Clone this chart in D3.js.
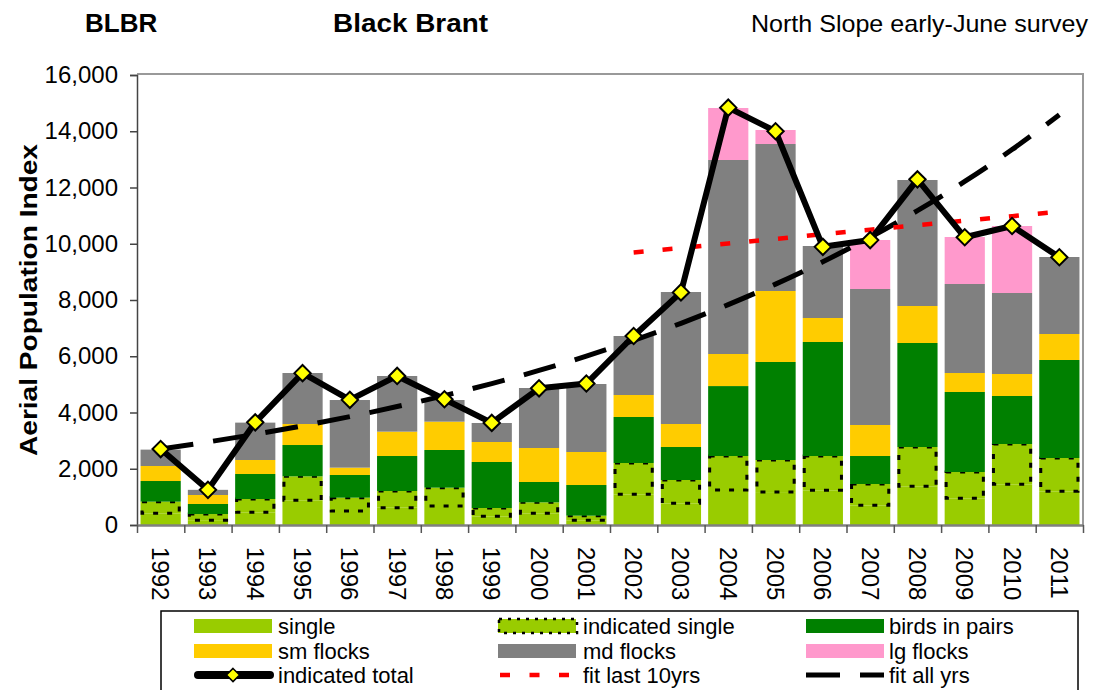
<!DOCTYPE html>
<html><head><meta charset="utf-8">
<script src="https://cdn.jsdelivr.net/npm/d3@7"></script>
<style>
body{margin:0;background:#fff;}
svg{display:block;font-family:"Liberation Sans",Arial,sans-serif;}
</style></head>
<body>
<svg id="chart" width="1094" height="690"></svg>
<script>
// ---- data ----
const years = ["1992","1993","1994","1995","1996","1997","1998","1999","2000","2001","2002","2003","2004","2005","2006","2007","2008","2009","2010","2011"];
const single        = [415,170,451,877,498,616,676,308,415,166,1090,770,1244,1170,1233,699,1375,948,1446,1197];
const indSingle     = [415,220,473,854,474,593,652,296,391,166,1114,830,1209,1141,1220,759,1398,936,1434,1185];
const birdsInPairs  = [734,357,889,1113,806,1244,1339,1636,723,1090,1636,1173,2487,3485,4054,995,3698,2845,1707,3485];
const smFlocks      = [534,320,498,747,261,866,1007,711,1209,1174,782,818,1140,2524,853,1103,1316,675,782,924];
const mdFlocks      = [582,183,1329,1813,2405,1979,770,676,2133,2417,2098,4693,6898,5227,2560,4835,4480,3165,2880,2738];
const lgFlocks      = [0,0,0,0,0,0,0,0,0,0,0,0,1849,497,0,1742,0,1671,2382,0];
const indicatedTotal= [2700,1250,3650,5400,4450,5300,4470,3630,4860,5030,6720,8270,14840,14000,9890,10130,12290,10230,10630,9520];
const fitAllYrs     = [2702,2953,3227,3526,3853,4211,4602,5029,5495,6005,6563,7172,7837,8565,9360,10228,11178,12215,13349,14588];
const fitLast10Years= ["2002","2003","2004","2005","2006","2007","2008","2009","2010","2011"];
const fitLast10     = [9690,9850,10010,10170,10340,10500,10660,10820,10980,11140];
const yTicks        = [0,2000,4000,6000,8000,10000,12000,14000,16000];

const seriesKeys  = ["single","indSingle","pairs","sm","md","lg"];
const seriesNames = {single:"single",indSingle:"indicated single",pairs:"birds in pairs",sm:"sm flocks",md:"md flocks",lg:"lg flocks"};
const colors = {single:"#99CC00",indSingle:"#99CC00",pairs:"#008000",sm:"#FFCC00",md:"#808080",lg:"#FF99CC"};

const table = years.map((y,i)=>({year:y,single:single[i],indSingle:indSingle[i],pairs:birdsInPairs[i],sm:smFlocks[i],md:mdFlocks[i],lg:lgFlocks[i]}));

const svg = d3.select("#chart");
const L=137, R=1083, T=75, B=525;
const x = d3.scaleBand().domain(years).range([L,R]).paddingInner(0.15).paddingOuter(0.075);
const y = d3.scaleLinear().domain([0,16000]).range([B,T]);
const cx = d => x(d)+x.bandwidth()/2;

// plot frame (top/right)
svg.append("path").attr("d",`M${L},${T-1}H${R}V${B}`).attr("fill","none").attr("stroke","#999").attr("stroke-width",2);

// bars
const stack = d3.stack().keys(seriesKeys)(table);
stack.forEach(layer=>{
  const key = layer.key;
  const g = svg.append("g").attr("class","layer-"+key);
  g.selectAll("rect").data(layer.filter(d=>d[1]-d[0]>0)).join("rect")
    .attr("x",d=>x(d.data.year)).attr("width",x.bandwidth())
    .attr("y",d=>y(d[1])).attr("height",d=>y(d[0])-y(d[1]))
    .attr("fill",colors[key]);
  if(key==="indSingle"){
    g.selectAll("rect.outline").data(layer).join("rect").attr("class","outline")
      .attr("x",d=>x(d.data.year)+1.5).attr("width",x.bandwidth()-3)
      .attr("y",d=>y(d[1])).attr("height",d=>y(d[0])-y(d[1]))
      .attr("fill","none").attr("stroke","#000").attr("stroke-width",3).attr("stroke-dasharray","5,9");
  }
});

// axes
const yAxis = d3.axisLeft(y).tickValues(yTicks).tickFormat(d3.format(",")).tickSize(7).tickPadding(12);
const gy = svg.append("g").attr("transform",`translate(${L},0)`).call(yAxis);
gy.selectAll("text").attr("font-size",24).attr("fill","#000").attr("font-family","Liberation Sans, Arial, sans-serif");
gy.selectAll("line").attr("stroke","#444").attr("stroke-width",1.5);
gy.select(".domain").attr("stroke","#444").attr("stroke-width",1.5);

const xb = d3.scaleLinear().domain([0,years.length]).range([L,R]);
const gxt = svg.append("g").attr("transform",`translate(0,${B})`)
  .call(d3.axisBottom(xb).tickValues(d3.range(0,years.length+1)).tickFormat("").tickSize(8).tickSizeOuter(0));
gxt.selectAll("line").attr("stroke","#555").attr("stroke-width",1.5);
gxt.select(".domain").attr("stroke","#808080").attr("stroke-width",2.5);

const gx = svg.append("g").attr("transform",`translate(0,${B})`).call(d3.axisBottom(x).tickSize(0).tickPadding(0));
gx.select(".domain").remove();
gx.selectAll("text").attr("font-size",24).attr("fill","#000").attr("font-family","Liberation Sans, Arial, sans-serif")
  .attr("text-anchor","start").attr("dy",null).attr("y",0).attr("x",0)
  .attr("transform","translate(0,22) rotate(90)").attr("dominant-baseline","central");

// trend lines
const lineAll = d3.line().x((d,i)=>cx(years[i])).y(d=>y(d)).curve(d3.curveMonotoneX);
svg.append("path").datum(fitAllYrs).attr("d",lineAll).attr("fill","none")
  .attr("stroke","#000").attr("stroke-width",5).attr("stroke-dasharray","33,20");
const line10 = d3.line().x((d,i)=>cx(fitLast10Years[i])).y(d=>y(d)).curve(d3.curveMonotoneX);
svg.append("path").datum(fitLast10).attr("d",line10).attr("fill","none")
  .attr("stroke","#FF0000").attr("stroke-width",4.5).attr("stroke-dasharray","10,19");

// indicated total
const lineTot = d3.line().x((d,i)=>cx(years[i])).y(d=>y(d));
svg.append("path").datum(indicatedTotal).attr("d",lineTot).attr("fill","none")
  .attr("stroke","#000").attr("stroke-width",6).attr("stroke-linejoin","round");
const diamond = d3.symbol().type(d3.symbolDiamond2).size(170);
svg.append("g").selectAll("path").data(indicatedTotal).join("path")
  .attr("d",diamond).attr("transform",(d,i)=>`translate(${cx(years[i])},${y(d)})`)
  .attr("fill","#FFFF00").attr("stroke","#000").attr("stroke-width",2);

// titles
svg.append("text").attr("x",85).attr("y",32).attr("font-size",26).attr("font-weight","bold").text("BLBR");
svg.append("text").attr("x",333).attr("y",32).attr("font-size",26).attr("font-weight","bold")
  .attr("textLength",155).attr("lengthAdjust","spacingAndGlyphs").text("Black Brant");
svg.append("text").attr("x",1088).attr("y",32).attr("font-size",24).attr("text-anchor","end")
  .attr("textLength",337).attr("lengthAdjust","spacingAndGlyphs").text("North Slope early-June survey");
svg.append("text").attr("transform","translate(37,300) rotate(-90)").attr("text-anchor","middle")
  .attr("font-size",23).attr("font-weight","bold")
  .attr("textLength",312).attr("lengthAdjust","spacingAndGlyphs").text("Aerial Population Index");

// legend
const lg = svg.append("g");
lg.append("rect").attr("x",161).attr("y",611).attr("width",917).attr("height",100)
  .attr("fill","#fff").attr("stroke","#000").attr("stroke-width",1.5);
const colX = [194,498,806], textX=[278,583,889], rowY=[626,651,675];
const legendItems = [
  {k:"single",c:0,r:0},{k:"indSingle",c:1,r:0},{k:"pairs",c:2,r:0},
  {k:"sm",c:0,r:1},{k:"md",c:1,r:1},{k:"lg",c:2,r:1}
];
legendItems.forEach(it=>{
  const sx=colX[it.c], sy=rowY[it.r];
  lg.append("rect").attr("x",sx).attr("y",sy-7).attr("width",78).attr("height",14).attr("fill",colors[it.k]);
  if(it.k==="indSingle"){
    lg.append("rect").attr("x",sx+1).attr("y",sy-7).attr("width",78).attr("height",14)
      .attr("fill","none").attr("stroke","#000").attr("stroke-width",2.5).attr("stroke-dasharray","3,6");
  }
  lg.append("text").attr("x",textX[it.c]).attr("y",sy+8).attr("font-size",22).text(seriesNames[it.k]);
});
// row 3
lg.append("line").attr("x1",198).attr("x2",270).attr("y1",rowY[2]).attr("y2",rowY[2])
  .attr("stroke","#000").attr("stroke-width",8).attr("stroke-linecap","round");
lg.append("path").attr("d",d3.symbol().type(d3.symbolDiamond2).size(110))
  .attr("transform",`translate(233,${rowY[2]})`).attr("fill","#FFFF00").attr("stroke","#000").attr("stroke-width",1.5);
lg.append("text").attr("x",textX[0]).attr("y",rowY[2]+8).attr("font-size",22).text("indicated total");
lg.append("line").attr("x1",500).attr("x2",570).attr("y1",rowY[2]).attr("y2",rowY[2])
  .attr("stroke","#FF0000").attr("stroke-width",4.5).attr("stroke-dasharray","10,19.5");
lg.append("text").attr("x",textX[1]).attr("y",rowY[2]+8).attr("font-size",22).text("fit last 10yrs");
lg.append("line").attr("x1",806).attr("x2",884).attr("y1",rowY[2]).attr("y2",rowY[2])
  .attr("stroke","#000").attr("stroke-width",5).attr("stroke-dasharray","34,20");
lg.append("text").attr("x",textX[2]).attr("y",rowY[2]+8).attr("font-size",22).text("fit all yrs");
</script>
</body></html>
